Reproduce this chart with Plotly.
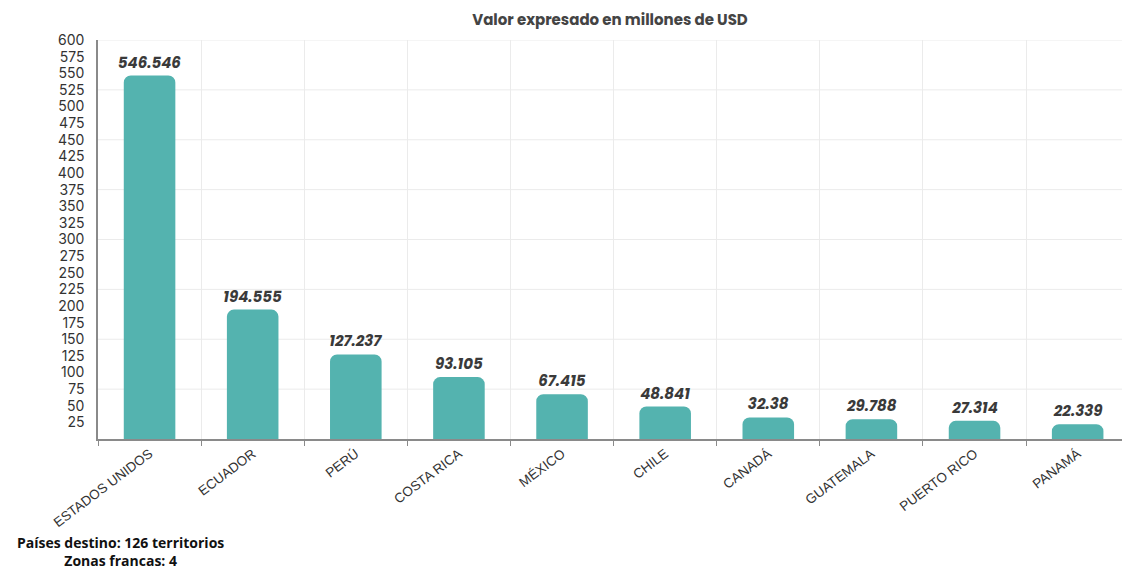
import plotly.graph_objects as go

countries = ["ESTADOS UNIDOS", "ECUADOR", "PERÚ", "COSTA RICA", "MÉXICO",
             "CHILE", "CANADÁ", "GUATEMALA", "PUERTO RICO", "PANAMÁ"]
values = [546.546, 194.555, 127.237, 93.105, 67.415, 48.841, 32.38, 29.788, 27.314, 22.339]
labels = ["546.546", "194.555", "127.237", "93.105", "67.415", "48.841", "32.38", "29.788", "27.314", "22.339"]
y_ticks = list(range(25, 601, 25))
h_grid = list(range(75, 601, 75))

title_text = "Valor expresado en millones de USD"
footer_lines = ["Países destino: 126 territorios", "Zonas francas: 4"]

fig = go.Figure()
fig.add_trace(go.Bar(
    x=countries, y=values, text=labels, textposition="outside",
    constraintext="none",
    textfont=dict(family="Poppins, Inter, sans-serif", size=15, color="#3a3a3a",
                  weight="bold", style="italic"),
    marker=dict(color="#54B3AF", cornerradius=7, line=dict(width=0)),
    width=0.5, cliponaxis=False, hoverinfo="x+y",
))

shapes = [dict(type="line", xref="paper", yref="y", x0=0, x1=1, y0=v, y1=v,
               line=dict(color="#ebebeb", width=1), layer="below") for v in h_grid]

annotations = [dict(
    text="<br>".join(footer_lines), xref="paper", yref="paper",
    x=(120 - 98) / 1024, y=-0.283, xanchor="center", yanchor="middle",
    showarrow=False, align="center",
    font=dict(family="Open Sans, sans-serif", size=14, color="#111111", weight="bold"),
)]

fig.update_layout(
    width=1122, height=571,
    margin=dict(l=98, r=0, t=40, b=132),
    paper_bgcolor="white", plot_bgcolor="white",
    showlegend=False,
    shapes=shapes,
    title=dict(text=title_text, x=0.5, xref="paper", xanchor="center",
               y=0.965, yref="container", yanchor="middle",
               font=dict(family="Poppins, Inter, sans-serif", size=15, color="#444444", weight="bold")),
    xaxis=dict(
        type="category", range=[-0.5, 9.43], tickson="boundaries",
        showgrid=True, gridcolor="#ebebeb", gridwidth=1,
        ticks="outside", ticklen=5, tickcolor="#8a8a8a",
        showline=True, linecolor="#8a8a8a", linewidth=1.5,
        tickangle=-37,
        tickfont=dict(family="Liberation Sans, Arial, sans-serif", size=13.5, color="#333333"),
    ),
    yaxis=dict(
        range=[0, 600], tickmode="array", tickvals=y_ticks,
        showgrid=False, zeroline=False,
        showline=True, linecolor="#8a8a8a", linewidth=1.5,
        ticks="", ticklabelstandoff=9,
        tickfont=dict(family="Inter, sans-serif", size=14, color="#333333"),
    ),
    annotations=annotations,
)

fig.write_html("out.html")
